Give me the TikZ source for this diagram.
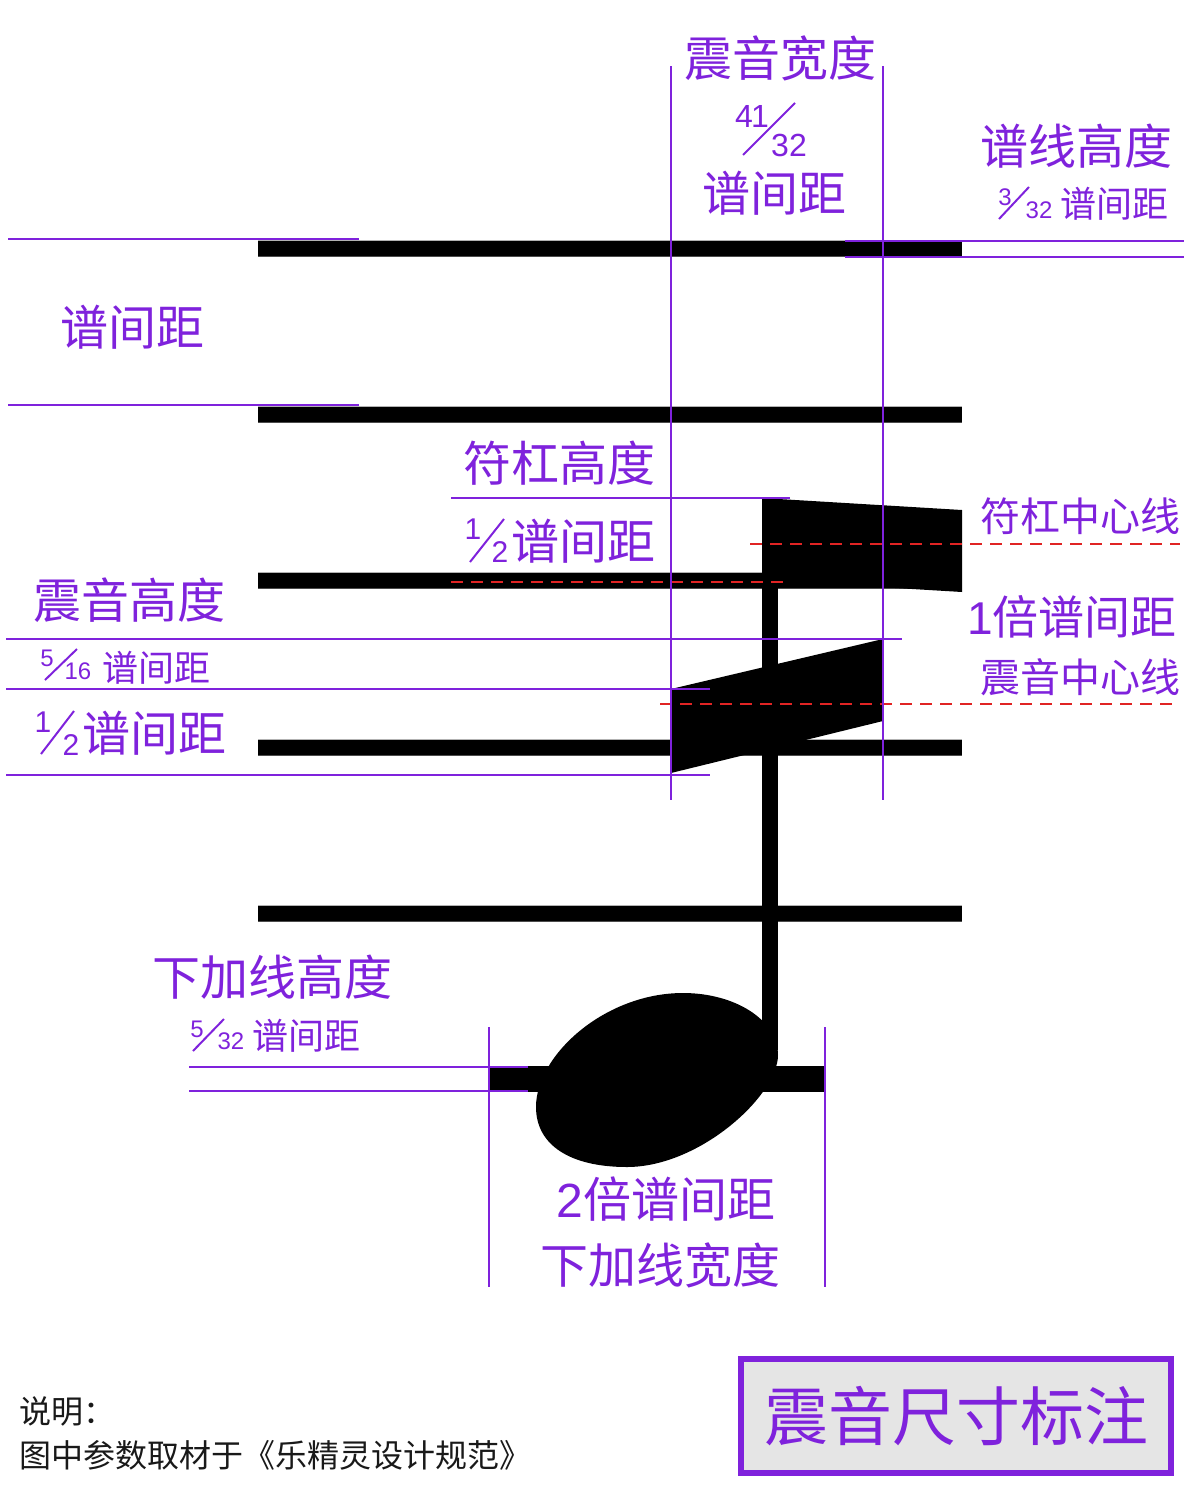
\documentclass[tikz,border=0pt]{standalone}
\usepackage{fontspec}
\setmainfont{Noto Sans CJK SC}
\newfontfamily\digitfont{Liberation Sans}
\definecolor{notepurple}{HTML}{7F22DC}
\definecolor{notered}{HTML}{E02424}
\tikzset{
  biglabel/.style={text=notepurple,inner sep=0pt,font=\fontsize{48}{48}\selectfont},
  midlabel/.style={text=notepurple,inner sep=0pt,font=\fontsize{40}{40}\selectfont},
  smalllabel/.style={text=notepurple,inner sep=0pt,font=\fontsize{36}{36}\selectfont},
  fracdigit/.style={text=notepurple,inner sep=0pt,font=\digitfont\fontsize{24}{24}\selectfont},
  bigdigit/.style={text=notepurple,inner sep=0pt,font=\digitfont\fontsize{32}{32}\selectfont},
  halfdigit/.style={text=notepurple,inner sep=0pt,font=\digitfont\fontsize{30}{30}\selectfont},
  fracline/.style={draw=notepurple,line width=2pt},
  notelabel/.style={text=black!90,inner sep=0pt,anchor=west,font=\fontsize{32}{32}\selectfont},
  measure/.style={draw=notepurple,line width=2pt},
  centerline/.style={draw=notered,line width=2pt,dash pattern=on 12pt off 8pt}
}
\begin{document}
\begin{tikzpicture}[x=1pt,y=-1pt]
  \useasboundingbox (0,0) rectangle (1200,1500);

  % staff
  \foreach \staffy in {240,406,572,739,905} {
    \fill[black!30] (258,\staffy) rectangle (962,\staffy+1);
    \fill[black] (258,\staffy+1) rectangle (962,\staffy+16);
    \fill[black!70] (258,\staffy+16) rectangle (962,\staffy+17);
  }

  % beams, stem, ledger line, note head
  \fill[black] (762,498) -- (962,510) -- (962,592) -- (762,580) -- cycle;
  \fill[black] (671,689) -- (883,639) -- (883,721) -- (671,773) -- cycle;
  \fill[black] (762,498) rectangle (778,1050);
  \fill[black] (489,1066) rectangle (825,1092);
  \fill[black] (683,993) .. controls (735,993) and (778,1020) .. (778,1055)
    .. controls (778,1095) and (700,1167) .. (627,1167)
    .. controls (570,1167) and (536,1145) .. (536,1107)
    .. controls (536,1055) and (605,993) .. (683,993) -- cycle;

  % center lines
  \draw[centerline] (451,582) -- (783,582);
  \draw[centerline] (750,544) -- (1180,544);
  \draw[centerline] (660,704) -- (1172,704);

  % measures
  \draw[measure] (671,66) -- (671,800);
  \draw[measure] (883,66) -- (883,800);
  \draw[measure] (845,241) -- (1184,241);
  \draw[measure] (845,257) -- (1184,257);
  \draw[measure] (8,239) -- (359,239);
  \draw[measure] (8,405) -- (359,405);
  \draw[measure] (451,498) -- (790,498);
  \draw[measure] (6,639) -- (902,639);
  \draw[measure] (6,689) -- (710,689);
  \draw[measure] (6,775) -- (710,775);
  \draw[measure] (189,1067) -- (528,1067);
  \draw[measure] (189,1091) -- (528,1091);
  \draw[measure] (489,1027) -- (489,1287);
  \draw[measure] (825,1027) -- (825,1287);

  % top labels
  \node[biglabel] (widthname) at (780,58) {震音宽度};
  \node[bigdigit] (widthnum) at (752,116) {4\kern-2pt 1};
  \node[bigdigit] (widthden) at (789,145) {32};
  \draw[fracline] (743,155) -- (795,103);
  \node[biglabel] (widthunit) at (774,193) {谱间距};
  \node[biglabel] (linename) at (1076,146) {谱线高度};
  \node[fracdigit] (linenum) at (1005,197) {3};
  \node[fracdigit] (lineden) at (1039,210) {32};
  \draw[fracline] (999,219) -- (1029,187);
  \node[smalllabel] (lineunit) at (1114,204) {谱间距};
  \node[biglabel] (spacename) at (132,327) {谱间距};

  % beam labels
  \node[biglabel] (beamname) at (559,463) {符杠高度};
  \node[halfdigit] (beamnum) at (473,529) {1};
  \node[halfdigit] (beamden) at (500,552) {2};
  \draw[fracline] (470,562) -- (504,519);
  \node[biglabel] (beamunit) at (583,541) {谱间距};
  \node[midlabel] (beamcenter) at (1080,516) {符杠中心线};
  \node[biglabel,font=\fontsize{46}{46}\selectfont] (onespace) at (1072,617) {{\digitfont 1}倍谱间距};
  \node[midlabel] (tremcenter) at (1080,677) {震音中心线};

  % tremolo labels
  \node[biglabel] (tremname) at (130,600) {震音高度};
  \node[fracdigit] (tremnum) at (47,658) {5};
  \node[fracdigit] (tremden) at (78,671) {16};
  \draw[fracline] (45,680) -- (77,649);
  \node[smalllabel] (tremunit) at (156,668) {谱间距};
  \node[halfdigit] (halfnum) at (43,722) {1};
  \node[halfdigit] (halfden) at (71,745) {2};
  \draw[fracline] (41,754) -- (74,711);
  \node[biglabel] (halfunit) at (154,733) {谱间距};

  % ledger labels
  \node[biglabel] (ledgername) at (272,977) {下加线高度};
  \node[fracdigit] (ledgernum) at (197,1029) {5};
  \node[fracdigit] (ledgerden) at (231,1041) {32};
  \draw[fracline] (193,1051) -- (224,1019);
  \node[smalllabel] (ledgerunit) at (306,1036) {谱间距};
  \node[biglabel] (twospace) at (666,1199) {{\digitfont 2}倍谱间距};
  \node[biglabel] (ledgerwidth) at (660,1265) {下加线宽度};

  % note and title
  \node[notelabel] (noteone) at (19,1411) {说明：};
  \node[notelabel] (notetwo) at (19,1455) {图中参数取材于《乐精灵设计规范》};
  \node[draw=notepurple,fill=black!10,line width=6pt,minimum width=430pt,minimum height=114pt,inner sep=0pt,
    text=notepurple,font=\fontsize{64}{64}\selectfont] (titlebox) at (956,1416) {震音尺寸标注};
\end{tikzpicture}
\end{document}
